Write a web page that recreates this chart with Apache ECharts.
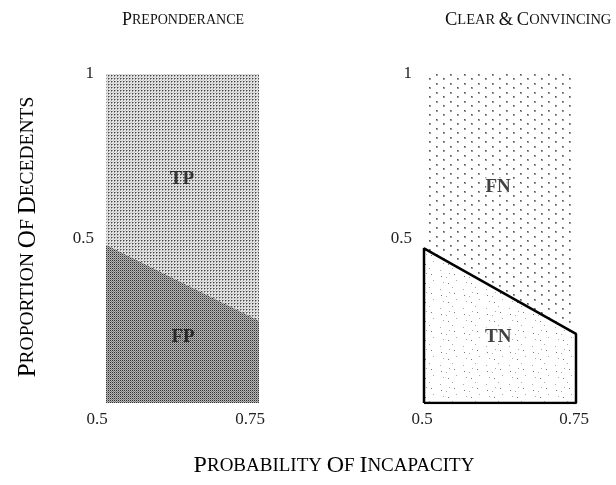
<!DOCTYPE html>
<html>
<head>
<meta charset="utf-8">
<script src="https://cdn.jsdelivr.net/npm/echarts@6/dist/echarts.min.js"></script>
<style>html,body{margin:0;padding:0;background:#fff}#c{width:616px;height:485px}</style>
</head>
<body>
<div id="c"></div>
<script>
// ---- data ----
const xTicks = [0.5, 0.75];
const yTicks = [0, 0.5, 1];
const boundaryX = [0.5, 0.75];
const prepBoundaryY = [0.48, 0.25];   // Preponderance: TP above, FP below
const ccBoundaryY = [0.47, 0.21];     // Clear & Convincing: FN above, TN below
const prepLabels = [[0.624, 0.68, 'TP'], [0.626, 0.2, 'FP']];
const ccLabels = [[0.622, 0.655, 'FN'], [0.622, 0.2, 'TN']];
const panelTitles = ['PREPONDERANCE', 'CLEAR & CONVINCING'];
const xTitle = 'PROBABILITY OF INCAPACITY';
const yTitle = 'PROPORTION OF DECEDENTS';

// ---- patterns ----
function tile(w, h, fn) {
  const c = document.createElement('canvas'); c.width = w; c.height = h;
  const ctx = c.getContext('2d'); fn(ctx); return c;
}
const tpPat = tile(3, 3, ctx => {
  ctx.fillStyle = '#e6e6e6'; ctx.fillRect(0, 0, 3, 3);
  ctx.fillStyle = '#444'; ctx.fillRect(0, 0, 1, 1);
  ctx.fillStyle = '#999'; ctx.fillRect(1, 0, 1, 1); ctx.fillRect(0, 1, 1, 1);
  ctx.fillStyle = '#c4c4c4'; ctx.fillRect(2, 2, 1, 1);
});
const fpPat = tile(2, 2, ctx => {
  ctx.fillStyle = '#b4b4b4'; ctx.fillRect(0, 0, 2, 2);
  ctx.fillStyle = '#333'; ctx.fillRect(0, 0, 1, 1);
  ctx.fillStyle = '#808080'; ctx.fillRect(1, 1, 1, 1);
});
const fnPat = tile(14, 9, ctx => {
  ctx.fillStyle = '#fff'; ctx.fillRect(0, 0, 14, 9);
  ctx.fillStyle = '#999'; ctx.fillRect(2, 2, 2, 2); ctx.fillRect(9, 6, 2, 2);
  ctx.fillStyle = '#555'; ctx.fillRect(2, 2, 1, 1); ctx.fillRect(9, 6, 1, 1);
});
const tnPat = tile(23, 19, ctx => {
  ctx.fillStyle = '#fff'; ctx.fillRect(0, 0, 23, 19);
  ctx.fillStyle = '#aaa';
  [[3,4],[15,2],[9,11],[19,14],[6,16],[12,7]].forEach(p => ctx.fillRect(p[0], p[1], 1, 1));
  ctx.fillStyle = '#777';
  [[17,8],[4,10],[11,17]].forEach(p => ctx.fillRect(p[0], p[1], 1, 1));
});
const pat = c => ({ image: c, repeat: 'repeat' });

// small caps helper
function smallCaps(str) {
  return str.split(' ').map(w => {
    if (w === '&') return '{a|&}';
    return '{a|' + w[0] + '}' + (w.length > 1 ? '{b|' + w.slice(1) + '}' : '');
  }).join('{b| }');
}
const FONT = '"Liberation Serif", "DejaVu Serif", serif';
const richSC = (big, small) => ({
  a: { fontFamily: FONT, fontSize: big, fontWeight: 'normal', color: '#111' },
  b: { fontFamily: FONT, fontSize: small, fontWeight: 'normal', color: '#111' }
});

const chart = echarts.init(document.getElementById('c'), null, { renderer: 'canvas' });

const axisX = (idx, pad) => ({
  type: 'value', gridIndex: idx, min: 0.5, max: 0.75, interval: 0.25,
  axisLine: { show: false }, axisTick: { show: false }, splitLine: { show: false },
  axisLabel: { fontFamily: FONT, fontSize: 17, color: '#222', margin: 8, padding: pad,
    formatter: v => String(v) }
});
const axisY = idx => ({
  type: 'value', gridIndex: idx, min: 0, max: 1, interval: 0.5,
  axisLine: { show: false }, axisTick: { show: false }, splitLine: { show: false },
  axisLabel: { fontFamily: FONT, fontSize: 17, color: '#222', margin: 12,
    formatter: v => (v === 0 ? '' : String(v)) }
});
const labelSeries = (idx, data, halo) => ({
  type: 'scatter', xAxisIndex: idx, yAxisIndex: idx, data: data, symbolSize: 0,
  silent: true, z: 10,
  label: { show: true, position: 'inside', formatter: p => p.data[2],
    fontFamily: FONT, fontWeight: 'bold', fontSize: 19, color: '#111',
    textBorderColor: halo ? '#fff' : 'transparent', textBorderWidth: halo ? 3 : 0 }
});
const areaSeries = (idx, xs, ys, fill, z) => ({
  type: 'line', xAxisIndex: idx, yAxisIndex: idx, z: z,
  data: xs.map((x, i) => [x, ys[i]]), symbol: 'none', silent: true,
  lineStyle: { width: 0 }, areaStyle: { color: pat(fill), opacity: 1, origin: 'start' }
});

chart.setOption({
  animation: false,
  backgroundColor: '#fff',
  title: [
    { text: smallCaps(panelTitles[0]), left: 117, top: 6,
      textStyle: { fontWeight: 'normal', rich: richSC(18, 14) } },
    { text: smallCaps(panelTitles[1]), left: 440, top: 6,
      textStyle: { fontWeight: 'normal', rich: richSC(18.5, 14.5) } }
  ],
  grid: [
    { left: 106, top: 74, width: 153, height: 329 },
    { left: 424, top: 74, width: 152, height: 329 }
  ],
  xAxis: [axisX(0, [0, 18, 0, 0]), axisX(1, [0, 4, 0, 0])],
  yAxis: [axisY(0), axisY(1)],
  graphic: [
    { type: 'text', x: 28, y: 237, rotation: Math.PI / 2,
      style: { text: smallCaps(yTitle), rich: richSC(25, 19.5), align: 'center', verticalAlign: 'middle' } },
    { type: 'text', x: 334, y: 466,
      style: { text: smallCaps(xTitle), rich: richSC(24, 19), align: 'center', verticalAlign: 'middle' } }
  ],
  series: [
    areaSeries(0, boundaryX, [1, 1], tpPat, 1),
    areaSeries(0, boundaryX, prepBoundaryY, fpPat, 2),
    labelSeries(0, prepLabels, false),
    areaSeries(1, boundaryX, [1, 1], fnPat, 1),
    areaSeries(1, boundaryX, ccBoundaryY, tnPat, 2),
    { type: 'line', xAxisIndex: 1, yAxisIndex: 1, z: 3, symbol: 'none', silent: true,
      data: [[boundaryX[0], 0], [boundaryX[0], ccBoundaryY[0]], [boundaryX[1], ccBoundaryY[1]], [boundaryX[1], 0], [boundaryX[0], 0]],
      lineStyle: { color: '#000', width: 2.5 } },
    labelSeries(1, ccLabels, true)
  ]
});
</script>
</body>
</html>
